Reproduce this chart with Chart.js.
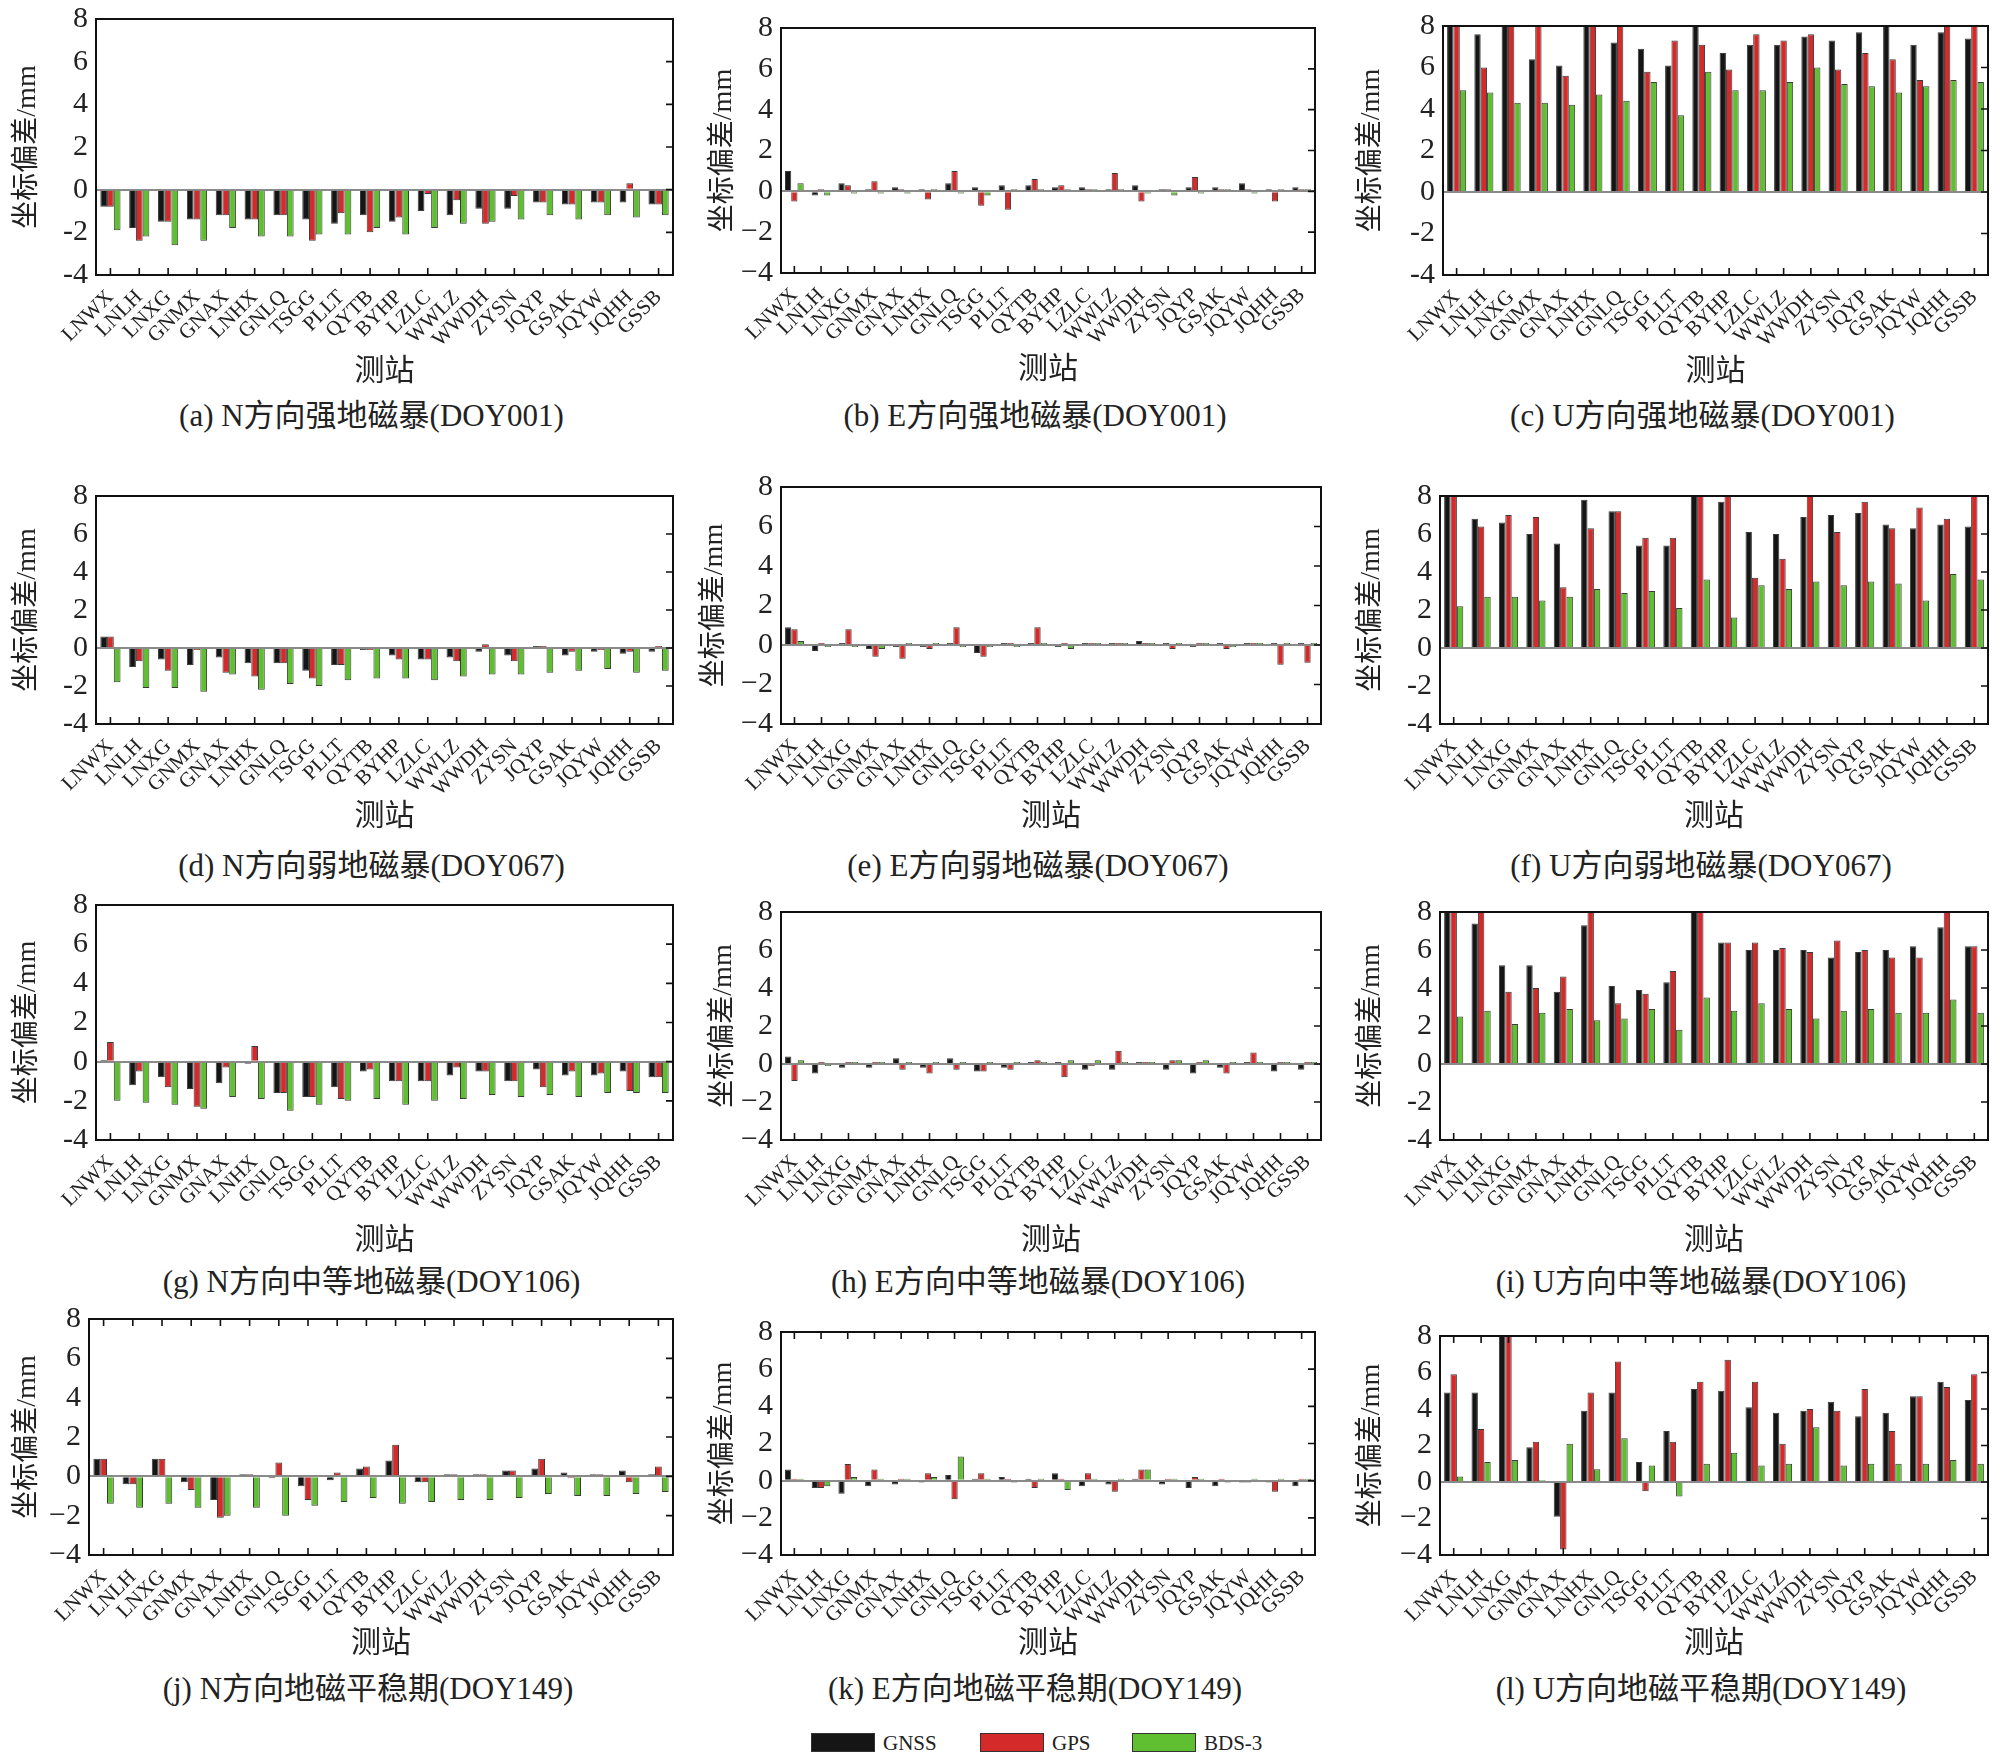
<!DOCTYPE html>
<html><head><meta charset="utf-8">
<script src="https://cdn.jsdelivr.net/npm/chart.js@4.4.1/dist/chart.umd.min.js"></script>
<style>
body{margin:0;background:#fff;width:1998px;height:1764px;position:relative;overflow:hidden;}
canvas{position:absolute;}
.cap{position:absolute;font-family:'Liberation Serif','Noto Sans CJK SC',serif;font-size:31px;color:#222;white-space:nowrap;transform:translateX(-50%);line-height:1;}
.lg{position:absolute;top:1733px;height:19px;border:1px solid #333;box-sizing:border-box;}
.lt{position:absolute;top:1730px;font-family:'Liberation Serif',serif;font-size:21px;color:#222;line-height:26px;}
</style></head><body>
<script>
const STATIONS = ['LNWX','LNLH','LNXG','GNMX','GNAX','LNHX','GNLQ','TSGG','PLLT','QYTB','BYHP','LZLC','WWLZ','WWDH','ZYSN','JQYP','GSAK','JQYW','JQHH','GSSB'];
const SERIES = ['GNSS','GPS','BDS-3'];
const Y_TICK_VALUES = [-4,-2,0,2,4,6,8];
const Y_LABELS_HYPHEN = ['-4','-2','0','2','4','6','8'];
const Y_LABELS_MINUS = ['\u22124','\u22122','0','2','4','6','8'];
const CAPTIONS = ['(a) N方向强地磁暴(DOY001)','(b) E方向强地磁暴(DOY001)','(c) U方向强地磁暴(DOY001)',
 '(d) N方向弱地磁暴(DOY067)','(e) E方向弱地磁暴(DOY067)','(f) U方向弱地磁暴(DOY067)',
 '(g) N方向中等地磁暴(DOY106)','(h) E方向中等地磁暴(DOY106)','(i) U方向中等地磁暴(DOY106)',
 '(j) N方向地磁平稳期(DOY149)','(k) E方向地磁平稳期(DOY149)','(l) U方向地磁平稳期(DOY149)'];

const A_GNSS = [-0.8,-1.8,-1.5,-1.4,-1.2,-1.4,-1.2,-1.4,-1.6,-1.2,-1.5,-1.0,-1.2,-0.9,-0.9,-0.6,-0.7,-0.6,-0.6,-0.7];
const A_GPS  = [-0.8,-2.4,-1.5,-1.4,-1.2,-1.4,-1.2,-2.4,-1.1,-2.0,-1.3,-0.2,-0.5,-1.6,-0.3,-0.6,-0.7,-0.6,0.3,-0.7];
const A_BDS  = [-1.9,-2.2,-2.6,-2.4,-1.8,-2.2,-2.2,-2.1,-2.1,-1.8,-2.1,-1.8,-1.6,-1.5,-1.4,-1.2,-1.4,-1.2,-1.3,-1.2];

const B_GNSS = [1.0,-0.2,0.4,0.1,0.2,0.1,0.4,0.2,0.3,0.3,0.2,0.2,0.1,0.3,0.1,0.2,0.2,0.4,0.1,0.2];
const B_GPS  = [-0.5,0.1,0.3,0.5,0.1,-0.4,1.0,-0.7,-0.9,0.6,0.3,0.1,0.9,-0.5,0.1,0.7,0.1,0.1,-0.5,0.1];
const B_BDS  = [0.4,-0.2,-0.1,-0.1,-0.1,0.1,-0.1,-0.2,0.1,0.1,0.1,0.1,0.1,-0.1,-0.2,-0.1,0.1,-0.1,0.1,0.1];

const C_GNSS = [8.5,7.6,8.5,6.4,6.1,8.5,7.2,6.9,6.1,8.5,6.7,7.1,7.1,7.5,7.3,7.7,8.5,7.1,7.7,7.4];
const C_GPS  = [8.5,6.0,8.5,8.5,5.6,8.5,8.5,5.8,7.3,7.1,5.9,7.6,7.3,7.6,5.9,6.7,6.4,5.4,8.5,8.5];
const C_BDS  = [4.9,4.8,4.3,4.3,4.2,4.7,4.4,5.3,3.7,5.8,4.9,4.9,5.3,6.0,5.2,5.1,4.8,5.1,5.4,5.3];

const D_GNSS = [0.6,-1.0,-0.6,-0.9,-0.5,-0.8,-0.8,-1.2,-0.9,-0.1,-0.4,-0.6,-0.5,-0.2,-0.4,0.1,-0.4,-0.2,-0.3,-0.2];
const D_GPS  = [0.6,-0.7,-1.2,-0.1,-1.3,-1.5,-0.8,-1.6,-0.9,-0.1,-0.6,-0.6,-0.7,0.2,-0.7,0.1,-0.2,-0.1,-0.2,0.1];
const D_BDS  = [-1.8,-2.1,-2.1,-2.3,-1.4,-2.2,-1.9,-2.0,-1.7,-1.6,-1.6,-1.7,-1.5,-1.4,-1.4,-1.3,-1.2,-1.1,-1.3,-1.2];

const E_GNSS = [0.9,-0.3,0.1,-0.2,-0.1,-0.1,0.1,-0.4,0.1,0.1,-0.1,0.1,0.1,0.2,0.1,-0.1,0.1,0.1,0.1,0.1];
const E_GPS  = [0.8,0.1,0.8,-0.6,-0.7,-0.2,0.9,-0.6,0.1,0.9,0.1,0.1,0.1,0.1,-0.2,0.1,-0.2,0.1,-1.0,-0.9];
const E_BDS  = [0.2,-0.1,-0.1,-0.2,0.1,0.1,-0.1,-0.1,-0.1,0.1,-0.2,0.1,0.1,0.1,0.1,0.1,-0.1,0.1,0.1,0.1];

const F_GNSS = [8.5,6.8,6.6,6.0,5.5,7.8,7.2,5.4,5.4,8.5,7.7,6.1,6.0,6.9,7.0,7.1,6.5,6.3,6.5,6.4];
const F_GPS  = [8.5,6.4,7.0,6.9,3.2,6.3,7.2,5.8,5.8,8.5,8.5,3.7,4.7,8.5,6.1,7.7,6.3,7.4,6.8,8.5];
const F_BDS  = [2.2,2.7,2.7,2.5,2.7,3.1,2.9,3.0,2.1,3.6,1.6,3.3,3.1,3.5,3.3,3.5,3.4,2.5,3.9,3.6];

const G_GNSS = [0.1,-1.2,-0.8,-1.4,-1.1,-0.1,-1.6,-1.8,-1.3,-0.5,-1.0,-1.0,-0.7,-0.5,-1.0,-0.4,-0.7,-0.7,-0.5,-0.8];
const G_GPS  = [1.0,-0.5,-1.3,-2.3,-0.3,0.8,-1.6,-1.8,-1.9,-0.4,-1.0,-1.0,-0.3,-0.5,-1.0,-1.3,-0.5,-0.6,-1.5,-0.8];
const G_BDS  = [-2.0,-2.1,-2.2,-2.4,-1.8,-1.9,-2.5,-2.2,-2.0,-1.9,-2.2,-2.0,-1.9,-1.7,-1.8,-1.7,-1.8,-1.6,-1.6,-1.6];

const H_GNSS = [0.4,-0.5,-0.2,-0.2,0.3,-0.2,0.3,-0.4,-0.2,0.1,0.1,-0.3,-0.3,0.1,-0.3,-0.5,-0.2,0.1,-0.4,-0.3];
const H_GPS  = [-0.9,0.1,0.1,0.1,-0.3,-0.5,-0.3,-0.4,-0.3,0.2,-0.7,-0.1,0.7,0.1,0.2,0.1,-0.5,0.6,0.1,0.1];
const H_BDS  = [0.2,-0.1,0.1,0.1,0.1,0.1,0.1,0.1,0.1,0.1,0.2,0.2,0.1,0.1,0.2,0.2,0.1,0.1,0.1,0.1];

const I_GNSS = [8.5,7.4,5.2,5.2,3.8,7.3,4.1,3.9,4.3,8.5,6.4,6.0,6.0,6.0,5.6,5.9,6.0,6.2,7.2,6.2];
const I_GPS  = [8.5,8.5,3.8,4.0,4.6,8.5,3.2,3.7,4.9,8.5,6.4,6.4,6.1,5.9,6.5,6.0,5.6,5.6,8.5,6.2];
const I_BDS  = [2.5,2.8,2.1,2.7,2.9,2.3,2.4,2.9,1.8,3.5,2.8,3.2,2.9,2.4,2.8,2.9,2.7,2.7,3.4,2.7];

const J_GNSS = [0.9,-0.4,0.9,-0.3,-1.2,0.1,-0.1,-0.5,-0.2,0.4,0.8,-0.3,0.1,0.1,0.3,0.4,0.2,0.1,0.3,0.1];
const J_GPS  = [0.9,-0.4,0.9,-0.7,-2.1,0.1,0.7,-1.2,0.2,0.5,1.6,-0.3,0.1,0.1,0.3,0.9,-0.1,0.1,-0.3,0.5];
const J_BDS  = [-1.4,-1.6,-1.4,-1.6,-2.0,-1.6,-2.0,-1.5,-1.3,-1.1,-1.4,-1.3,-1.2,-1.2,-1.1,-0.9,-1.0,-1.0,-0.9,-0.8];

const K_GNSS = [0.6,-0.4,-0.7,-0.3,-0.2,-0.1,0.3,0.1,0.2,0.1,0.4,-0.3,-0.2,0.1,-0.2,-0.4,-0.3,-0.1,-0.1,-0.3];
const K_GPS  = [0.1,-0.4,0.9,0.6,0.1,0.4,-1.0,0.4,0.1,-0.4,0.1,0.4,-0.6,0.6,0.1,0.2,0.1,-0.1,-0.6,0.1];
const K_BDS  = [0.1,-0.3,0.2,0.1,0.1,0.2,1.3,0.1,-0.1,0.1,-0.5,0.1,0.1,0.6,0.1,0.1,-0.1,0.1,0.1,0.1];

const L_GNSS = [4.9,4.9,8.5,1.9,-1.9,3.9,4.9,1.1,2.8,5.1,5.0,4.1,3.8,3.9,4.4,3.6,3.8,4.7,5.5,4.5];
const L_GPS  = [5.9,2.9,8.5,2.2,-3.7,4.9,6.6,-0.5,2.2,5.5,6.7,5.5,2.1,4.0,3.9,5.1,2.8,4.7,5.2,5.9];
const L_BDS  = [0.3,1.1,1.2,0.1,2.1,0.7,2.4,0.9,-0.8,1.0,1.6,0.9,1.0,3.0,0.9,1.0,1.0,1.0,1.2,1.0];

const PANEL_DATA = [
  [A_GNSS,A_GPS,A_BDS],[B_GNSS,B_GPS,B_BDS],[C_GNSS,C_GPS,C_BDS],
  [D_GNSS,D_GPS,D_BDS],[E_GNSS,E_GPS,E_BDS],[F_GNSS,F_GPS,F_BDS],
  [G_GNSS,G_GPS,G_BDS],[H_GNSS,H_GPS,H_BDS],[I_GNSS,I_GPS,I_BDS],
  [J_GNSS,J_GPS,J_BDS],[K_GNSS,K_GPS,K_BDS],[L_GNSS,L_GPS,L_BDS]
];
const PANEL_MINUS = [false,true,false,false,true,false,false,true,false,true,true,true];

// layout (pixels): plot left, right, top, bottom, y-title centre x
const LAYOUT = [
  [96,673,15,275,28],[781,1315,24,273,724],[1443,1988,22,275,1372],
  [96,673,492,724,28],[781,1321,483,724,715],[1440,1988,492,724,1372],
  [96,673,901,1140,28],[781,1321,908,1140,724],[1440,1988,908,1140,1372],
  [89,673,1315,1555,28],[781,1315,1328,1555,724],[1440,1988,1332,1555,1372]
];
const ROW_XAXIS_H = [119,115,123,111];
const ROW_CAPTION_Y = [416,866,1282,1689];
const COLORS = ['#151515','#d42a2a','#60be31'];
const FAMILY = "'Liberation Serif','Noto Sans CJK SC',serif";

const framePlugin = {
  id:'frame',
  afterDraw(chart, args, opts){
    const {ctx, chartArea:a, scales:{x,y}} = chart;
    ctx.save();
    ctx.strokeStyle='#111'; ctx.lineWidth=2;
    ctx.strokeRect(a.left, a.top, a.right-a.left, a.bottom-a.top);
    ctx.lineWidth=1.6;
    ctx.beginPath();
    y.ticks.forEach(t=>{ if(t.value>y.min && t.value<y.max){ const py=y.getPixelForValue(t.value); ctx.moveTo(a.right,py); ctx.lineTo(a.right-7,py);} });
    x.ticks.forEach((t,i)=>{ const px=x.getPixelForTick(i); ctx.moveTo(px,a.bottom); ctx.lineTo(px,a.bottom-7); if(opts.top){ctx.moveTo(px,a.top); ctx.lineTo(px,a.top+7);} });
    ctx.stroke(); ctx.restore();
  }
};

const PAD_TOP = 22, PAD_RIGHT = 8;
PANEL_DATA.forEach((sets, idx) => {
  const [L,R,T,B,YT] = LAYOUT[idx];
  const row = Math.floor(idx/3);
  const yAxW = L - (YT - 21);
  const xAxH = ROW_XAXIS_H[row];
  const cv = document.createElement('canvas');
  const w = yAxW + (R-L) + PAD_RIGHT, h = PAD_TOP + (B-T) + xAxH;
  cv.width = w; cv.height = h;
  cv.style.left = (L - yAxW) + 'px'; cv.style.top = (T - PAD_TOP) + 'px';
  cv.style.width = w+'px'; cv.style.height = h+'px';
  document.body.appendChild(cv);
  const labels = PANEL_MINUS[idx] ? Y_LABELS_MINUS : Y_LABELS_HYPHEN;
  new Chart(cv, {
    type:'bar',
    data:{ labels: STATIONS, datasets: sets.map((d,k)=>({label:SERIES[k], data:d, backgroundColor:COLORS[k], borderColor:'#3a3a3a', borderWidth:1, categoryPercentage:0.7, barPercentage:1.0, clip:0})) },
    options:{
      responsive:false, animation:false, devicePixelRatio:1,
      layout:{padding:{top:PAD_TOP,right:PAD_RIGHT,left:0,bottom:0}},
      plugins:{legend:{display:false}, tooltip:{enabled:false}, frame:{top: row===3}},
      scales:{
        x:{
          grid:{display:false}, border:{display:false},
          ticks:{autoSkip:false, minRotation:45, maxRotation:45, padding:2, color:'#222', font:{family:FAMILY, size:21}},
          title:{display:true, text:'测站', color:'#222', font:{family:FAMILY, size:30}, padding:{top:4,bottom:4}},
          afterFit:(s)=>{ s.height = xAxH; }
        },
        y:{
          min:-4, max:8,
          afterBuildTicks:(s)=>{ s.ticks = Y_TICK_VALUES.map(v=>({value:v})); },
          grid:{drawTicks:false, lineWidth:2, color:(c)=> (c.tick && c.tick.value===0) ? '#8a8a8a' : 'rgba(0,0,0,0)'},
          border:{display:false},
          ticks:{autoSkip:false, padding:8, color:'#222', font:{family:FAMILY, size:30}, callback:(v)=>labels[Y_TICK_VALUES.indexOf(v)]},
          title:{display:true, text:'坐标偏差/mm', color:'#222', font:{family:FAMILY, size:28}, padding:{top:4,bottom:0}},
          afterFit:(s)=>{ s.width = yAxW; }
        }
      }
    },
    plugins:[framePlugin]
  });
  const cap = document.createElement('div');
  cap.className='cap'; cap.textContent = CAPTIONS[idx];
  cap.style.left = ((L+R)/2 - 13) + 'px';
  cap.style.top = (ROW_CAPTION_Y[row] - 16) + 'px';
  document.body.appendChild(cap);
});

// legend
const LEG_X = [811,980,1132];
SERIES.forEach((s,k)=>{
  const sw = document.createElement('div'); sw.className='lg';
  sw.style.left = LEG_X[k]+'px'; sw.style.width='64px'; sw.style.background=COLORS[k];
  document.body.appendChild(sw);
  const t = document.createElement('div'); t.className='lt'; t.textContent=s;
  t.style.left = (LEG_X[k]+72)+'px';
  document.body.appendChild(t);
});
</script>
</body></html>
